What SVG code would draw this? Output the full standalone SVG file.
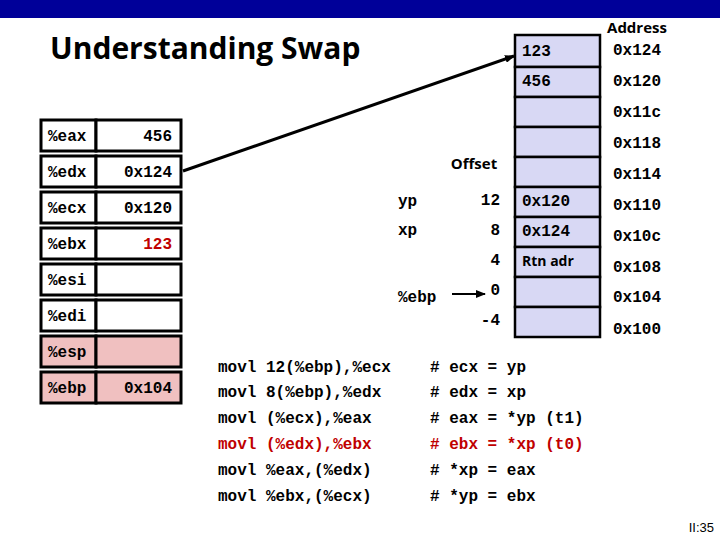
<svg xmlns="http://www.w3.org/2000/svg" width="720" height="540" viewBox="0 0 720 540">
<defs>
<style>
.m{font-family:"Liberation Mono",monospace;font-size:16px;font-weight:bold;fill:#000}
.s{font-family:"Open Sans","Liberation Sans",sans-serif;font-weight:bold;fill:#000}
.r{fill:#fff;stroke:#000;stroke-width:3}
.p{fill:#f0c0c0;stroke:#000;stroke-width:3}
.c{fill:#d8d8f4;stroke:#000;stroke-width:2.5}
.red{fill:#c00000}
</style>
<marker id="ah" markerWidth="10" markerHeight="8" refX="9" refY="4" orient="auto" markerUnits="userSpaceOnUse"><path d="M0,0L10,4L0,8z" fill="#000"/></marker>
</defs>
<rect x="0" y="0" width="720" height="18" fill="#000099"/>
<text x="50" y="59" class="s" font-size="30" font-weight="600">Understanding Swap</text>
<g id="regs">
<g id="eax"><rect class="r" x="41" y="120" width="55" height="31"/><rect class="r" x="96" y="120" width="85" height="31"/><text class="m" x="48" y="141">%eax</text><text class="m" x="172" y="141" text-anchor="end">456</text></g>
<g id="edx"><rect class="r" x="41" y="156" width="55" height="31"/><rect class="r" x="96" y="156" width="85" height="31"/><text class="m" x="48" y="177">%edx</text><text class="m" x="172" y="177" text-anchor="end">0x124</text></g>
<g id="ecx"><rect class="r" x="41" y="192" width="55" height="31"/><rect class="r" x="96" y="192" width="85" height="31"/><text class="m" x="48" y="213">%ecx</text><text class="m" x="172" y="213" text-anchor="end">0x120</text></g>
<g id="ebx"><rect class="r" x="41" y="228" width="55" height="31"/><rect class="r" x="96" y="228" width="85" height="31"/><text class="m" x="48" y="249">%ebx</text><text class="m red" x="172" y="249" text-anchor="end">123</text></g>
<g id="esi"><rect class="r" x="41" y="264" width="55" height="31"/><rect class="r" x="96" y="264" width="85" height="31"/><text class="m" x="48" y="285">%esi</text></g>
<g id="edi"><rect class="r" x="41" y="300" width="55" height="31"/><rect class="r" x="96" y="300" width="85" height="31"/><text class="m" x="48" y="321">%edi</text></g>
<g id="esp"><rect class="p" x="41" y="336" width="55" height="31"/><rect class="p" x="96" y="336" width="85" height="31"/><text class="m" x="48" y="357">%esp</text></g>
<g id="ebp"><rect class="p" x="41" y="372" width="55" height="31"/><rect class="p" x="96" y="372" width="85" height="31"/><text class="m" x="48" y="393">%ebp</text><text class="m" x="172" y="393" text-anchor="end">0x104</text></g>
</g>
<g id="stack">
<rect class="c" x="515" y="35" width="85" height="32"/><text class="m" x="522" y="56">123</text>
<rect class="c" x="515" y="67" width="85" height="30"/><text class="m" x="522" y="86">456</text>
<rect class="c" x="515" y="97" width="85" height="30"/>
<rect class="c" x="515" y="127" width="85" height="30"/>
<rect class="c" x="515" y="157" width="85" height="30"/>
<rect class="c" x="515" y="187" width="85" height="30"/><text class="m" x="522" y="206">0x120</text>
<rect class="c" x="515" y="217" width="85" height="30"/><text class="m" x="522" y="236">0x124</text>
<rect class="c" x="515" y="247" width="85" height="30"/><text class="s" x="522" y="266" font-size="14">Rtn adr</text>
<rect class="c" x="515" y="277" width="85" height="30"/>
<rect class="c" x="515" y="307" width="85" height="30"/>
</g>
<g id="addr" class="m">
<text class="s" x="637" y="33" font-size="15" text-anchor="middle">Address</text>
<text x="613" y="55">0x124</text><text x="613" y="86">0x120</text><text x="613" y="117">0x11c</text><text x="613" y="148">0x118</text><text x="613" y="179">0x114</text><text x="613" y="210">0x110</text><text x="613" y="241">0x10c</text><text x="613" y="272">0x108</text><text x="613" y="302">0x104</text><text x="613" y="334">0x100</text>
</g>
<g id="offsets">
<text class="s" x="474" y="169" font-size="15" text-anchor="middle">Offset</text>
<text class="m" x="398" y="206">yp</text><text class="m" x="398" y="235">xp</text>
<text class="m" x="500" y="205" text-anchor="end">12</text>
<text class="m" x="500" y="235" text-anchor="end">8</text>
<text class="m" x="500" y="265" text-anchor="end">4</text>
<text class="m" x="500" y="295" text-anchor="end">0</text>
<text class="m" x="500" y="325" text-anchor="end">-4</text>
<text class="m" x="398" y="302">%ebp</text>
</g>
<g id="connectors" stroke="#000" stroke-width="3" fill="none">
<line x1="183" y1="171" x2="514" y2="56" marker-end="url(#ah)"/>
<line x1="452" y1="294" x2="485" y2="294" stroke-width="2" marker-end="url(#ah)"/>
</g>
<g id="code" class="m">
<text x="218" y="372">movl 12(%ebp),%ecx</text><text x="430" y="372"># ecx = yp</text>
<text x="218" y="397">movl 8(%ebp),%edx</text><text x="430" y="397"># edx = xp</text>
<text x="218" y="423">movl (%ecx),%eax</text><text x="430" y="423"># eax = *yp (t1)</text>
<text x="218" y="449" class="m red">movl (%edx),%ebx</text><text x="430" y="449" class="m red"># ebx = *xp (t0)</text>
<text x="218" y="475">movl %eax,(%edx)</text><text x="430" y="475"># *xp = eax</text>
<text x="218" y="501">movl %ebx,(%ecx)</text><text x="430" y="501"># *yp = ebx</text>
</g>
<text x="714" y="532" font-family="Liberation Sans,sans-serif" font-size="13" text-anchor="end">II:35</text>
</svg>
